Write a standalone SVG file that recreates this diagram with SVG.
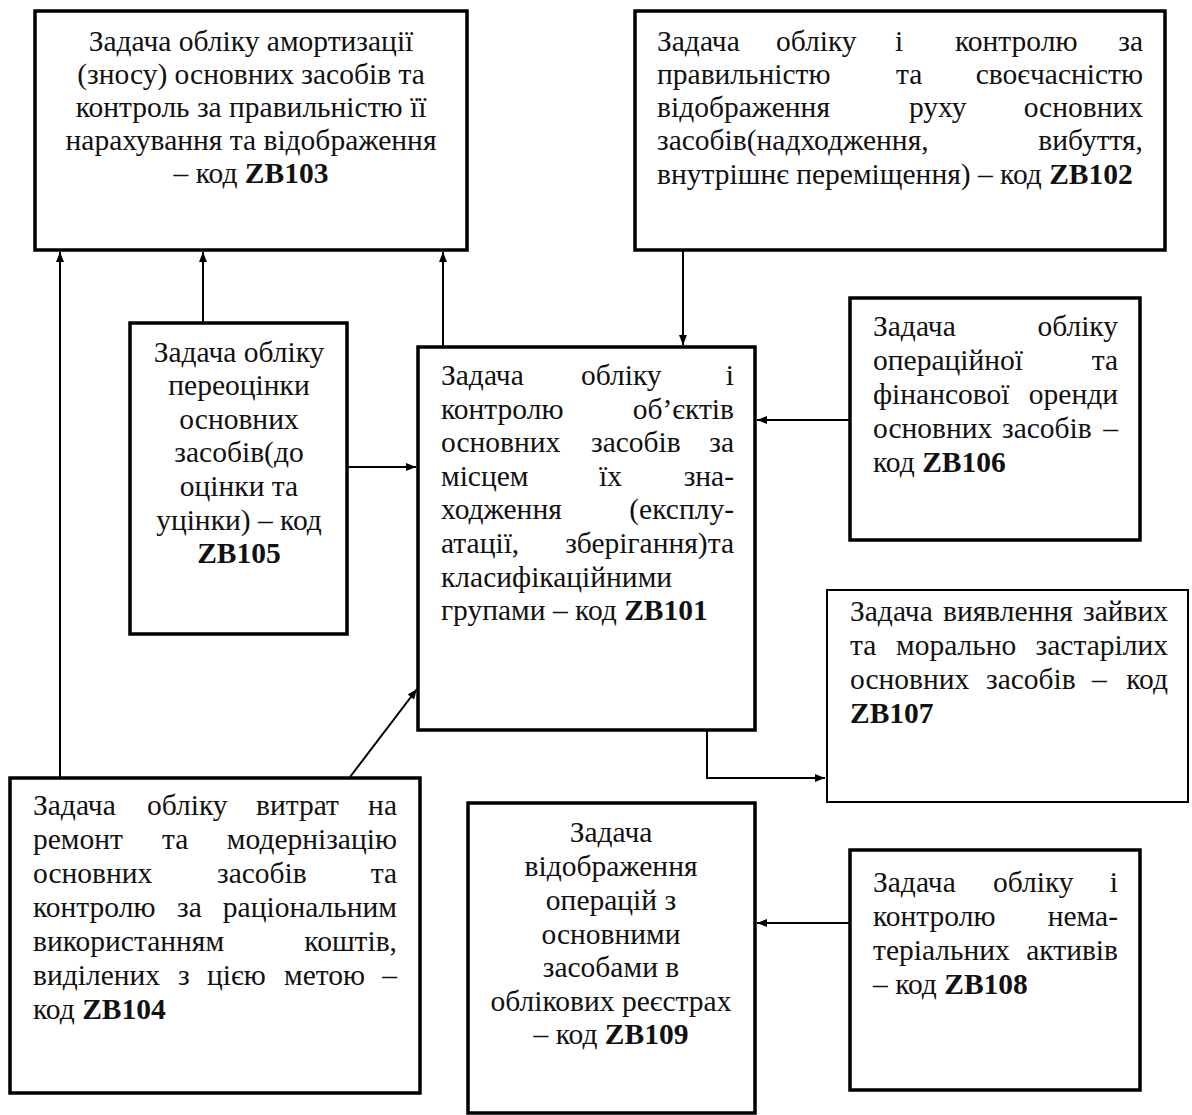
<svg xmlns="http://www.w3.org/2000/svg" width="1192" height="1115" viewBox="0 0 1192 1115">
<style>
.box{fill:#fff;stroke:#000;stroke-width:3.5}
.thin{stroke-width:2}
text{font-family:'Liberation Serif','Times New Roman',serif;font-size:29.5px;fill:#111}
.c{text-anchor:middle}
.e{text-anchor:end}
.b{font-weight:bold}
.con{fill:none;stroke:#000;stroke-width:2}
</style>
<defs>
<marker id="arr" viewBox="0 0 10 10" refX="10" refY="5" markerWidth="11" markerHeight="10" markerUnits="userSpaceOnUse" orient="auto"><path d="M0,1 L10,5 L0,9 z" fill="#000"/></marker>
</defs>
<rect width="1192" height="1115" fill="#fff"/>

<g id="connectors">
<path class="con" d="M203,323 V252" marker-end="url(#arr)"/>
<path class="con" d="M443,347 V252" marker-end="url(#arr)"/>
<path class="con" d="M60,778 V252" marker-end="url(#arr)"/>
<path class="con" d="M347,467 H416" marker-end="url(#arr)"/>
<path class="con" d="M683,250 V345" marker-end="url(#arr)"/>
<path class="con" d="M850,420 H757" marker-end="url(#arr)"/>
<path class="con" d="M350,777 L417,689" marker-end="url(#arr)"/>
<path class="con" d="M707,730 V778 H825" marker-end="url(#arr)"/>
<path class="con" d="M850,923 H757" marker-end="url(#arr)"/>
</g>

<g id="ZB103">
<rect class="box" x="35" y="11" width="432" height="239"/>
<text class="c" x="251" y="51">Задача обліку амортизації</text>
<text class="c" x="251" y="84">(зносу) основних засобів та</text>
<text class="c" x="251" y="117">контроль за правильністю її</text>
<text class="c" x="251" y="150">нарахування та відображення</text>
<text class="c" x="251" y="183">– код <tspan class="b">ZB103</tspan></text>
</g>

<g id="ZB102">
<rect class="box" x="635" y="11" width="530" height="239"/>
<text x="657" y="51">Задача</text><text x="776" y="51">обліку</text><text x="895" y="51">і</text><text x="955" y="51">контролю</text><text class="e" x="1143" y="51">за</text>
<text x="657" y="84">правильністю</text><text x="896" y="84">та</text><text class="e" x="1143" y="84">своєчасністю</text>
<text x="657" y="117">відображення</text><text x="909" y="117">руху</text><text class="e" x="1143" y="117">основних</text>
<text x="657" y="150">засобів(надходження,</text><text class="e" x="1143" y="150">вибуття,</text>
<text x="657" y="184">внутрішнє переміщення) – код <tspan class="b">ZB102</tspan></text>
</g>

<g id="ZB105">
<rect class="box" x="130" y="323" width="217" height="311"/>
<text class="c" x="239" y="362">Задача обліку</text>
<text class="c" x="239" y="395">переоцінки</text>
<text class="c" x="239" y="429">основних</text>
<text class="c" x="239" y="462">засобів(до</text>
<text class="c" x="239" y="496">оцінки та</text>
<text class="c" x="239" y="530">уцінки) – код</text>
<text class="c b" x="239" y="563">ZB105</text>
</g>

<g id="ZB101">
<rect class="box" x="418" y="347" width="337" height="383"/>
<text x="441" y="385">Задача</text><text x="581" y="385">обліку</text><text class="e" x="734" y="385">і</text>
<text x="441" y="419">контролю</text><text class="e" x="734" y="419">об’єктів</text>
<text x="441" y="452">основних</text><text x="591" y="452">засобів</text><text class="e" x="734" y="452">за</text>
<text x="441" y="486">місцем</text><text x="599" y="486">їх</text><text class="e" x="734" y="486">зна-</text>
<text x="441" y="519">ходження</text><text class="e" x="734" y="519">(експлу-</text>
<text x="441" y="553">атації,</text><text class="e" x="734" y="553">зберігання)та</text>
<text x="441" y="587">класифікаційними</text>
<text x="441" y="620">групами – код <tspan class="b">ZB101</tspan></text>
</g>

<g id="ZB106">
<rect class="box" x="850" y="298" width="290" height="242"/>
<text x="873" y="336">Задача</text><text class="e" x="1118" y="336">обліку</text>
<text x="873" y="370">операційної</text><text class="e" x="1118" y="370">та</text>
<text x="873" y="404">фінансової</text><text class="e" x="1118" y="404">оренди</text>
<text x="873" y="438">основних</text><text x="1002" y="438">засобів</text><text class="e" x="1118" y="438">–</text>
<text x="873" y="472">код <tspan class="b">ZB106</tspan></text>
</g>

<g id="ZB107">
<rect class="box thin" x="827" y="590" width="361" height="212"/>
<text x="850" y="621">Задача</text><text x="943" y="621">виявлення</text><text class="e" x="1168" y="621">зайвих</text>
<text x="850" y="655">та</text><text x="896" y="655">морально</text><text class="e" x="1168" y="655">застарілих</text>
<text x="850" y="689">основних</text><text x="986" y="689">засобів</text><text x="1092" y="689">–</text><text class="e" x="1168" y="689">код</text>
<text class="b" x="850" y="723">ZB107</text>
</g>

<g id="ZB104">
<rect class="box" x="10" y="778" width="410" height="315"/>
<text x="33" y="815">Задача</text><text x="147" y="815">обліку</text><text x="256" y="815">витрат</text><text class="e" x="397" y="815">на</text>
<text x="33" y="849">ремонт</text><text x="162" y="849">та</text><text class="e" x="397" y="849">модернізацію</text>
<text x="33" y="883">основних</text><text x="217" y="883">засобів</text><text class="e" x="397" y="883">та</text>
<text x="33" y="917">контролю</text><text x="177" y="917">за</text><text class="e" x="397" y="917">раціональним</text>
<text x="33" y="951">використанням</text><text class="e" x="397" y="951">коштів,</text>
<text x="33" y="985">виділених</text><text x="178" y="985">з</text><text x="207" y="985">цією</text><text x="284" y="985">метою</text><text class="e" x="397" y="985">–</text>
<text x="33" y="1019">код <tspan class="b">ZB104</tspan></text>
</g>

<g id="ZB109">
<rect class="box" x="468" y="803" width="287" height="310"/>
<text class="c" x="611" y="842">Задача</text>
<text class="c" x="611" y="876">відображення</text>
<text class="c" x="611" y="910">операцій з</text>
<text class="c" x="611" y="944">основними</text>
<text class="c" x="611" y="977">засобами в</text>
<text class="c" x="611" y="1011">облікових реєстрах</text>
<text class="c" x="611" y="1044">– код <tspan class="b">ZB109</tspan></text>
</g>

<g id="ZB108">
<rect class="box" x="850" y="850" width="290" height="240"/>
<text x="873" y="892">Задача</text><text x="993" y="892">обліку</text><text class="e" x="1118" y="892">і</text>
<text x="873" y="926">контролю</text><text class="e" x="1118" y="926">нема-</text>
<text x="873" y="960">теріальних</text><text class="e" x="1118" y="960">активів</text>
<text x="873" y="994">– код <tspan class="b">ZB108</tspan></text>
</g>
</svg>
